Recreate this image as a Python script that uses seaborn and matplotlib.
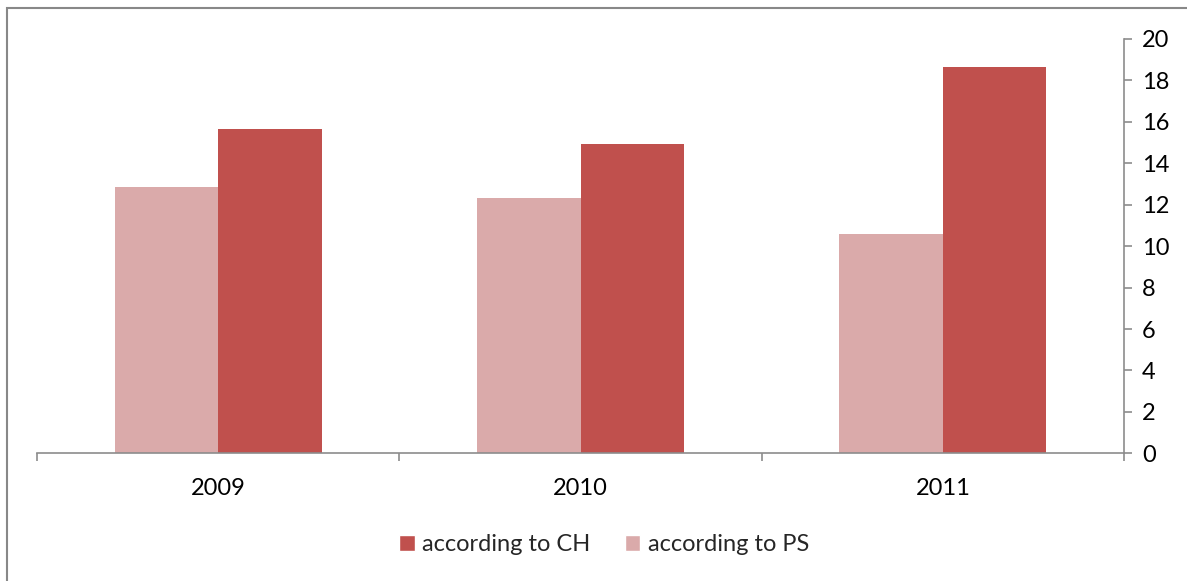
import pandas as pd
import matplotlib
matplotlib.use("Agg")
import matplotlib.pyplot as plt
import seaborn as sns
from matplotlib.patches import Patch, Rectangle
from matplotlib.ticker import FixedLocator, NullFormatter

# data
years = ["2009", "2010", "2011"]
according_to_ps = [12.86, 12.33, 10.58]
according_to_ch = [15.67, 14.93, 18.65]
series_names = ["according to PS", "according to CH"]
y_ticks = list(range(0, 21, 2))

colors = {"according to PS": "#DAAAAA", "according to CH": "#C0504D"}

df = pd.DataFrame({
    "year": years * 2,
    "value": according_to_ps + according_to_ch,
    "series": [series_names[0]] * len(years) + [series_names[1]] * len(years),
})

sns.set_style("white")
plt.rcParams["font.family"] = ["Lato", "DejaVu Sans"]

fig = plt.figure(figsize=(11.87, 5.81), dpi=100)
ax = fig.add_axes([0.0312, 0.2198, 0.9157, 0.7131])

sns.barplot(data=df, x="year", y="value", hue="series", hue_order=series_names,
            palette=colors, width=0.572, saturation=1, linewidth=0, ax=ax, legend=False)

axis_grey = "#8C8C8C"
ax.set_xlim(-0.5, 2.5)
ax.set_ylim(0, 20)
ax.set_xlabel("")
ax.set_ylabel("")

# y axis on the right side
ax.yaxis.tick_right()
ax.set_yticks(y_ticks)
ax.tick_params(axis="y", which="major", right=True, direction="out", length=6, width=1.2,
               color=axis_grey, pad=7, labelsize=17, labelcolor="black")

# x axis: category separators as ticks, labels centered under groups
ax.xaxis.set_minor_locator(FixedLocator([-0.5, 0.5, 1.5, 2.5]))
ax.xaxis.set_minor_formatter(NullFormatter())
ax.tick_params(axis="x", which="major", bottom=True, length=0, pad=18, labelsize=17,
               labelcolor="black")
ax.tick_params(axis="x", which="minor", bottom=True, direction="out", length=6, width=1.2,
               color=axis_grey)

for side in ["left", "top"]:
    ax.spines[side].set_visible(False)
for side in ["right", "bottom"]:
    ax.spines[side].set_visible(True)
    ax.spines[side].set_color(axis_grey)
    ax.spines[side].set_linewidth(1.2)

# legend: CH first, then PS
handles = [Patch(facecolor=colors["according to CH"]), Patch(facecolor=colors["according to PS"])]
fig.legend(handles, ["according to CH", "according to PS"], loc="center",
           bbox_to_anchor=(0.509, 0.062), ncol=2, frameon=False, fontsize=17,
           handlelength=0.64, handleheight=0.64, handletextpad=0.3, columnspacing=1.5)

# chart border (cut off at right and bottom in the reference)
fig.patches.append(Rectangle((0.0059, -0.1), 1.2, 1.086, transform=fig.transFigure,
                             fill=False, edgecolor="#888888", linewidth=1.5))

fig.savefig("out.png", dpi=100)
